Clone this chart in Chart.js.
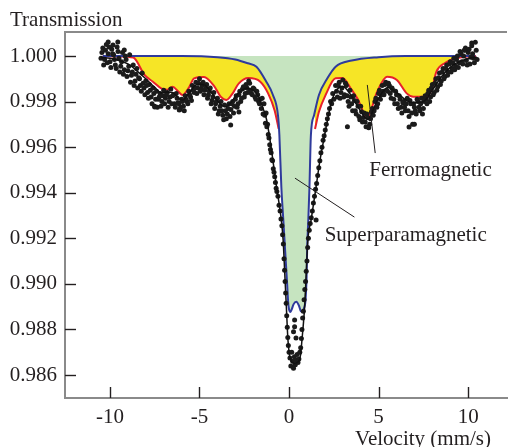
<!DOCTYPE html>
<html><head><meta charset="utf-8">
<script src="https://cdn.jsdelivr.net/npm/chart.js@4"></script>
<style>html,body{margin:0;padding:0;background:#fff;overflow:hidden}</style>
</head><body>
<canvas id="c" width="511" height="447"></canvas>
<script>
// ---------- data ----------
const xTicks = [-10, -5, 0, 5, 10];
const yTicks = [0.986, 0.988, 0.990, 0.992, 0.994, 0.996, 0.998, 1.000];
const xTitle = 'Velocity (mm/s)';
const yTitle = 'Transmission';

// experimental points
const dataVel = [
-10.5,-10.4,-10.3,-10.2,-10.1,-10.0,-9.9,-9.8,-9.7,-9.6,-9.5,-9.4,-9.3,-9.2,-9.1,-9.0,-8.9,-8.8,-8.7,-8.6,
-8.5,-8.4,-8.3,-8.2,-8.1,-8.0,-7.9,-7.8,-7.7,-7.6,-7.5,-7.4,-7.3,-7.2,-7.1,-7.0,-6.9,-6.8,-6.7,-6.6,
-6.5,-6.4,-6.3,-6.2,-6.1,-6.0,-5.9,-5.8,-5.7,-5.6,-5.5,-5.4,-5.3,-5.2,-5.1,-5.0,-4.9,-4.8,-4.7,-4.6,
-4.5,-4.4,-4.3,-4.2,-4.1,-4.0,-3.9,-3.8,-3.7,-3.6,-3.5,-3.4,-3.3,-3.2,-3.1,-3.0,-2.9,-2.8,-2.7,-2.6,
-2.5,-2.4,-2.3,-2.2,-2.1,-2.0,-1.9,-1.8,-1.7,-1.6,
-10.45,-10.35,-10.25,-10.15,-10.05,-9.95,-9.85,-9.75,-9.65,-9.55,-9.45,-9.35,-9.25,-9.15,-9.05,-8.95,-8.85,-8.75,-8.65,-8.55,
-8.45,-8.35,-8.25,-8.15,-8.05,-7.95,-7.85,-7.75,-7.65,-7.55,-7.45,-7.35,-7.25,-7.15,-7.05,-6.95,-6.85,-6.75,-6.65,-6.55,
-6.45,-6.35,-6.25,-6.15,-6.05,-5.95,-5.85,-5.75,-5.65,-5.55,-5.45,-5.35,-5.25,-5.15,-5.05,-4.95,-4.85,-4.75,-4.65,-4.55,
-4.45,-4.35,-4.25,-4.15,-4.05,-3.95,-3.85,-3.75,-3.65,-3.55,-3.45,-3.35,-3.25,-3.15,-3.05,-2.95,-2.85,-2.75,-2.65,-2.55,
-2.45,-2.35,-2.25,-2.15,-2.05,-1.95,-1.85,-1.75,-1.65,
-1.55,-1.50,-1.45,-1.40,-1.36,-1.32,-1.28,-1.24,-1.20,-1.16,-1.12,-1.08,-1.04,-1.00,-0.96,-0.92,-0.88,-0.84,-0.80,-0.76,
-0.72,-0.68,-0.62,-0.56,-0.50,-0.45,-0.40,-0.36,-0.32,-0.28,-0.25,-0.22,-0.19,-0.16,-0.13,-0.10,-0.07,-0.04,0.00,
0.05,0.10,0.15,0.20,0.25,0.30,0.35,0.40,0.45,0.50,0.55,0.60,0.31,0.31,0.39,0.25,
0.65,0.69,0.72,0.76,0.80,0.84,0.88,0.92,0.96,1.00,1.04,1.08,1.13,1.18,1.24,1.30,1.36,1.42,1.48,1.54,
1.60,1.66,1.72,1.78,1.84,1.90,1.96,2.02,2.08,2.14,2.20,2.26,2.32,2.38,2.44,2.50,1.51,
2.6,2.7,2.8,2.9,3.0,3.1,3.2,3.3,3.4,3.5,3.6,3.7,3.8,3.9,4.0,4.1,4.2,4.3,4.4,4.5,
4.6,4.7,4.8,4.9,5.0,5.1,5.2,5.3,5.4,5.5,5.6,5.7,5.8,5.9,6.0,6.1,6.2,6.3,6.4,6.5,
6.6,6.7,6.8,6.9,7.0,7.1,7.2,7.3,7.4,7.5,7.6,7.7,7.8,7.9,8.0,8.1,8.2,8.3,8.4,8.5,
8.6,8.7,8.8,8.9,9.0,9.1,9.2,9.3,9.4,9.5,9.6,9.7,9.8,9.9,10.0,10.1,10.2,10.3,10.4,10.5,
2.65,2.75,2.85,2.95,3.05,3.15,3.25,3.35,3.45,3.55,3.65,3.75,3.85,3.95,4.05,4.15,4.25,4.35,4.45,4.55,
4.65,4.75,4.85,4.95,5.05,5.15,5.25,5.35,5.45,5.55,5.65,5.75,5.85,5.95,6.05,6.15,6.25,6.35,6.45,6.55,
6.65,6.75,6.85,6.95,7.05,7.15,7.25,7.35,7.45,7.55,7.65,7.75,7.85,7.95,8.05,8.15,8.25,8.35,8.45,8.55,
8.65,8.75,8.85,8.95,9.05,9.15,9.25,9.35,9.45,9.55,9.65,9.75,9.85,9.95,10.05,10.15,10.25,10.35,10.45,
-10.1,-9.56,-9.83,-9.2,-7.5,-6.13,-2.8,-3.26,3.26,6.7,7.0,10.2,9.8
];
const dataTrans = [
0.99990,1.00035,0.99985,1.00050,1.00010,0.99975,1.00030,1.00005,0.99960,1.00040,0.99990,0.99955,1.00015,0.99940,0.99985,0.99935,1.00005,0.99915,0.99960,0.99890,
0.99945,0.99905,0.99870,0.99925,0.99860,0.99890,0.99840,0.99875,0.99820,0.99860,0.99780,0.99845,0.99810,0.99835,0.99800,0.99850,0.99815,0.99840,0.99800,0.99855,
0.99825,0.99790,0.99835,0.99795,0.99765,0.99810,0.99780,0.99825,0.99800,0.99845,0.99820,0.99870,0.99840,0.99885,0.99860,0.99900,0.99855,0.99885,0.99850,0.99875,
0.99830,0.99860,0.99805,0.99840,0.99790,0.99815,0.99760,0.99800,0.99740,0.99785,0.99725,0.99770,0.99735,0.99790,0.99750,0.99810,0.99775,0.99830,0.99800,0.99855,
0.99820,0.99875,0.99840,0.99880,0.99835,0.99860,0.99820,0.99845,0.99800,0.99810,
1.00015,0.99960,1.00025,0.99970,1.00040,0.99950,1.00010,0.99985,0.99945,1.00020,0.99930,0.99975,0.99920,1.00000,0.99910,0.99955,0.99885,0.99930,0.99870,0.99920,
0.99860,0.99900,0.99845,0.99880,0.99830,0.99870,0.99815,0.99850,0.99790,0.99835,0.99810,0.99775,0.99820,0.99780,0.99825,0.99790,0.99830,0.99775,0.99820,0.99790,
0.99830,0.99775,0.99815,0.99790,0.99775,0.99800,0.99760,0.99810,0.99790,0.99830,0.99805,0.99850,0.99860,0.99835,0.99880,0.99845,0.99870,0.99830,0.99860,0.99815,
0.99845,0.99790,0.99820,0.99770,0.99800,0.99745,0.99780,0.99760,0.99720,0.99760,0.99745,0.99790,0.99765,0.99800,0.99780,0.99825,0.99790,0.99845,0.99815,0.99865,
0.99835,0.99860,0.99890,0.99850,0.99830,0.99855,0.99810,0.99830,0.99790,
0.99770,0.99815,0.99745,0.99790,0.99740,0.99705,0.99750,0.99690,0.99700,0.99655,0.99640,0.99610,0.99590,0.99575,0.99545,0.99540,0.99505,0.99490,0.99470,0.99445,
0.99420,0.99405,0.99385,0.99345,0.99320,0.99285,0.99255,0.99215,0.99175,0.99110,0.99060,0.99010,0.98960,0.98915,0.98860,0.98810,0.98765,0.98730,0.98700,
0.98675,0.98640,0.98700,0.98660,0.98630,0.98680,0.98645,0.98665,0.98690,0.98655,0.98670,0.98700,0.98841,0.98812,0.98762,0.98790,
0.98720,0.98760,0.98800,0.98850,0.98880,0.98930,0.98975,0.99010,0.99055,0.99100,0.99160,0.99200,0.99235,0.99265,0.99290,0.99320,0.99355,0.99385,0.99415,0.99440,
0.99475,0.99510,0.99540,0.99575,0.99600,0.99630,0.99650,0.99675,0.99700,0.99725,0.99745,0.99770,0.99800,0.99790,0.99835,0.99810,0.99280,
0.99870,0.99820,0.99885,0.99840,0.99895,0.99830,0.99870,0.99800,0.99850,0.99790,0.99825,0.99760,0.99800,0.99735,0.99780,0.99710,0.99750,0.99690,0.99730,0.99700,
0.99755,0.99740,0.99800,0.99775,0.99835,0.99810,0.99870,0.99830,0.99885,0.99845,0.99870,0.99815,0.99850,0.99790,0.99830,0.99770,0.99810,0.99750,0.99800,0.99760,
0.99815,0.99735,0.99790,0.99700,0.99775,0.99745,0.99800,0.99760,0.99815,0.99770,0.99825,0.99790,0.99850,0.99820,0.99875,0.99840,0.99900,0.99865,0.99925,0.99890,
0.99945,0.99910,0.99960,0.99930,0.99975,0.99945,0.99990,0.99955,1.00000,0.99970,1.00010,0.99965,1.00025,0.99980,1.00015,0.99965,1.00045,0.99990,1.00060,0.99985,
0.99845,0.99870,0.99815,0.99860,0.99820,0.99880,0.99825,0.99780,0.99820,0.99760,0.99805,0.99745,0.99780,0.99720,0.99755,0.99730,0.99710,0.99745,0.99685,0.99725,
0.99770,0.99760,0.99815,0.99790,0.99850,0.99830,0.99845,0.99875,0.99850,0.99880,0.99835,0.99860,0.99810,0.99845,0.99790,0.99825,0.99775,0.99795,0.99775,0.99790,
0.99760,0.99805,0.99750,0.99790,0.99760,0.99810,0.99775,0.99790,0.99745,0.99800,0.99810,0.99835,0.99800,0.99860,0.99830,0.99880,0.99850,0.99905,0.99875,0.99930,
0.99900,0.99945,0.99915,0.99965,0.99930,0.99970,0.99940,0.99985,0.99950,1.00020,0.99975,1.00000,1.00035,0.99960,1.00030,0.99995,1.00010,0.99970,1.00025,
1.00061,1.00061,1.00048,1.00026,0.99776,0.99763,0.99754,0.99697,0.99690,0.99688,0.99700,1.00057,1.00026
];

// total fit (black line)
const fitVel = [-10.5,-10.0,-9.5,-9.0,-8.5,-8.0,-7.5,-7.1,-6.8,-6.5,-6.2,-5.95,-5.6,-5.3,-5.0,-4.7,-4.3,-3.9,-3.55,-3.2,
-2.8,-2.36,-2.0,-1.7,-1.45,-1.25,-1.05,-0.88,-0.70,-0.55,-0.43,-0.33,-0.24,-0.15,-0.06,0.06,0.28,0.50,0.64,0.72,
0.87,0.96,1.05,1.23,1.51,1.70,1.92,2.15,2.41,2.7,3.0,3.4,3.9,4.4,4.9,5.5,6.0,6.5,6.9,7.5,8.0,8.5,9.0,9.5,10.0,10.5];
const fitTrans = [0.99995,0.99990,0.99980,0.99965,0.99935,0.99900,0.99862,0.99838,0.99842,0.99840,0.99818,0.99807,0.99835,0.99868,0.99876,0.99872,0.99835,0.99795,0.99777,0.99800,
0.99838,0.99858,0.99850,0.99820,0.99770,0.99719,0.99625,0.99530,0.99426,0.99350,0.99280,0.99192,0.99047,0.98899,0.98753,0.98674,0.98652,0.98657,0.98687,0.98753,
0.98899,0.99047,0.99192,0.99280,0.99426,0.99529,0.99625,0.99719,0.99810,0.99855,0.99866,0.99835,0.99770,0.99722,0.99800,0.99862,0.99840,0.99808,0.99795,0.99800,0.99850,0.99908,0.99950,0.99975,0.99988,0.99995];

// superparamagnetic doublet (blue line, green fill)
const paraVel = [-10.4,-6.0,-4.0,-3.0,-2.3,-1.82,-1.27,-0.90,-0.62,-0.54,-0.43,-0.33,-0.22,-0.10,-0.05,0.02,0.08,0.15,0.25,0.40,
0.55,0.66,0.74,0.82,0.92,0.98,1.01,1.08,1.14,1.22,1.40,1.67,2.14,2.60,3.5,5.0,6.5,10.4];
const paraTrans = [1.0000,1.0000,0.99995,0.99985,0.99968,0.99953,0.99887,0.99829,0.99741,0.99653,0.99425,0.99293,0.99148,0.98990,0.98920,0.98882,0.98877,0.98888,0.98910,0.98921,
0.98905,0.98880,0.98877,0.98890,0.98930,0.99030,0.99148,0.99290,0.99425,0.99653,0.99741,0.99829,0.99902,0.99953,0.99980,0.99995,1.0000,1.0000];

// ferromagnetic sextet (red line, yellow fill)
const ferroLeftVel = [-10.4,-9.5,-8.7,-8.07,-7.6,-7.14,-6.8,-6.5,-6.2,-5.95,-5.6,-5.3,-4.75,-4.2,-3.8,-3.5,-3.2,-2.8,-2.27,-1.62,-1.17,-0.80,-0.58];
const ferroLeftTrans = [1.0000,0.99998,0.99993,0.99917,0.99887,0.99858,0.99852,0.99865,0.99845,0.99829,0.99860,0.99902,0.99908,0.99870,0.99820,0.99807,0.99830,0.99880,0.99903,0.99888,0.99836,0.99760,0.99680];
const ferroRightVel = [1.45,1.67,2.04,2.60,2.98,3.5,3.81,4.36,4.92,5.47,6.02,6.57,6.94,7.59,7.96,8.23,8.69,9.34,10.44];
const ferroRightTrans = [0.99680,0.99755,0.99829,0.99902,0.99903,0.99851,0.99814,0.99732,0.99843,0.99909,0.99895,0.99836,0.99821,0.99821,0.99851,0.99931,0.99968,0.99990,1.0000];

// annotations
const annoLabels = ['Ferromagnetic', 'Superparamagnetic'];
const annoTextVel = [4.48, 1.99];
const annoTextTrans = [0.99473, 0.99188];
const leaderFromVel = [4.37, 0.33];
const leaderFromTrans = [0.99873, 0.99464];
const leaderToVel = [4.81, 3.65];
const leaderToTrans = [0.99574, 0.99293];

// ---------- chart ----------
const pts = (xs, ys) => xs.map((v, i) => ({x: v, y: ys[i]}));
const FONT = '"Liberation Serif", "Times New Roman", serif';
const TXT = '#231f20';

const decor = {
  id: 'decor',
  afterDraw(chart) {
    const {ctx, chartArea: a, scales: {x, y}} = chart;
    ctx.save();
    ctx.strokeStyle = '#8a8a8a'; ctx.lineWidth = 2;
    ctx.beginPath(); ctx.moveTo(a.left - 1, a.top); ctx.lineTo(a.right, a.top); ctx.stroke();
    ctx.strokeStyle = '#231f20'; ctx.lineWidth = 1.4;
    y.ticks.forEach(t => { const p = Math.round(y.getPixelForValue(t.value)) + 0.5;
      ctx.beginPath(); ctx.moveTo(a.left, p); ctx.lineTo(a.left + 11, p); ctx.stroke(); });
    x.ticks.forEach(t => { const p = Math.round(x.getPixelForValue(t.value)) + 0.5;
      ctx.beginPath(); ctx.moveTo(p, a.bottom); ctx.lineTo(p, a.bottom - 11); ctx.stroke(); });
    // leader lines
    ctx.lineWidth = 1; ctx.strokeStyle = '#231f20';
    for (let i = 0; i < annoLabels.length; i++) {
      ctx.beginPath();
      ctx.moveTo(x.getPixelForValue(leaderFromVel[i]), y.getPixelForValue(leaderFromTrans[i]));
      ctx.lineTo(x.getPixelForValue(leaderToVel[i]), y.getPixelForValue(leaderToTrans[i]));
      ctx.stroke();
    }
    ctx.fillStyle = TXT; ctx.font = '21px ' + FONT;
    ctx.textAlign = 'left'; ctx.textBaseline = 'alphabetic';
    for (let i = 0; i < annoLabels.length; i++) {
      ctx.fillText(annoLabels[i], x.getPixelForValue(annoTextVel[i]), y.getPixelForValue(annoTextTrans[i]));
    }
    ctx.fillText(yTitle, a.left - 55, a.top - 6);
    ctx.textAlign = 'right';
    ctx.fillText(xTitle, a.right - 16, chart.height - 2);
    ctx.restore();
  }
};

new Chart(document.getElementById('c'), {
  type: 'line',
  data: {
    datasets: [
      { data: pts(fitVel, fitTrans), borderColor: '#111', borderWidth: 1.5, pointRadius: 0,
        cubicInterpolationMode: 'monotone', fill: false, order: 1 },
      { data: pts(dataVel, dataTrans), showLine: false, pointRadius: 2.5, pointBorderWidth: 0,
        pointBackgroundColor: '#1b1b1b', backgroundColor: '#1b1b1b', order: 2 },
      { data: pts(paraVel, paraTrans), borderColor: '#2f3a9c', borderWidth: 2, pointRadius: 0,
        backgroundColor: '#c6e4c0', fill: {value: 1.0}, cubicInterpolationMode: 'monotone', order: 3 },
      { data: pts(ferroLeftVel, ferroLeftTrans), borderColor: '#e8212b', borderWidth: 2, pointRadius: 0,
        backgroundColor: '#f6e526', fill: {value: 1.0}, cubicInterpolationMode: 'monotone', order: 4 },
      { data: pts(ferroRightVel, ferroRightTrans), borderColor: '#e8212b', borderWidth: 2, pointRadius: 0,
        backgroundColor: '#f6e526', fill: {value: 1.0}, cubicInterpolationMode: 'monotone', order: 5 }
    ]
  },
  options: {
    responsive: false, animation: false, devicePixelRatio: 1,
    layout: { padding: { top: 32, right: 0, left: 0, bottom: 0 } },
    plugins: { legend: { display: false }, tooltip: { enabled: false } },
    scales: {
      x: {
        type: 'linear', min: -12.51, max: 12.17,
        afterBuildTicks: s => { s.ticks = xTicks.map(v => ({value: v})); },
        afterFit: s => { s.height = 49; },
        grid: { display: true, drawOnChartArea: false, drawTicks: false },
        border: { display: true, color: '#8a8a8a', width: 2 },
        ticks: { color: TXT, font: { family: FONT, size: 21 }, padding: 7, maxRotation: 0,
          callback: v => String(v) }
      },
      y: {
        type: 'linear', min: 0.984991, max: 1.001053,
        afterBuildTicks: s => { s.ticks = yTicks.map(v => ({value: v})); },
        afterFit: s => { s.width = 65; },
        grid: { display: true, drawOnChartArea: false, drawTicks: false },
        border: { display: true, color: '#8a8a8a', width: 2 },
        ticks: { color: TXT, font: { family: FONT, size: 21 }, padding: 8,
          callback: v => v.toFixed(3) }
      }
    }
  },
  plugins: [decor]
});
</script>
</body></html>
